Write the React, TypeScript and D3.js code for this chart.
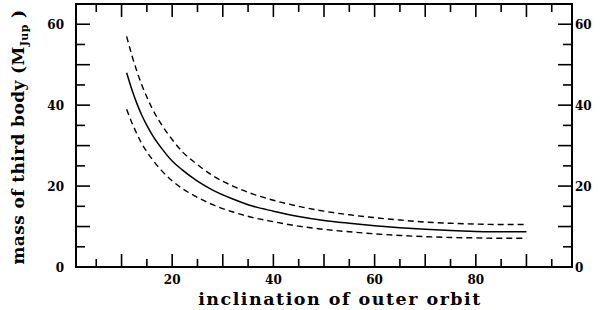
import React from "react";
import * as d3 from "d3";

const inclination = [11, 12, 13, 14, 15, 16, 18, 20, 22, 25, 28, 32, 36, 40, 45, 50, 55, 60, 65, 70, 75, 80, 85, 90];
const massBest = [48, 44, 40.5, 37.5, 35, 32.8, 29.2, 26.2, 24, 21.2, 19, 16.8, 15, 13.8, 12.5, 11.5, 10.8, 10.2, 9.7, 9.3, 9.0, 8.8, 8.7, 8.7];
const massUpper = [57, 52.5, 48.5, 45, 42, 39.3, 35, 31.5, 28.5, 25.3, 22.6, 20, 18, 16.5, 15, 13.8, 12.9, 12.2, 11.6, 11.1, 10.8, 10.6, 10.5, 10.5];
const massLower = [39, 35.8, 33, 30.5, 28.5, 26.7, 23.7, 21.3, 19.4, 17.2, 15.4, 13.6, 12.2, 11.2, 10.1, 9.3, 8.7, 8.2, 7.8, 7.5, 7.3, 7.2, 7.1, 7.1];

const xLabelTicks = [20, 40, 60, 80];
const yLabelTicks = [0, 20, 40, 60];
const xTitle = "inclination of outer orbit";

export default function App() {
  const W = 600, H = 310;
  const left = 76, right = 572, top = 4, bottom = 267;
  const x = d3.scaleLinear().domain([1, 99]).range([left, right]);
  const y = d3.scaleLinear().domain([0, 65]).range([bottom, top]);
  const line = d3.line<number>().x((_, i) => x(inclination[i])).y((d) => y(d)).curve(d3.curveMonotoneX);

  const xMinor = d3.range(5, 99, 5);
  const yMinor = d3.range(5, 65, 5);
  const font = "'DejaVu Serif', serif";

  return (
    <svg width={W} height={H} style={{ position: "absolute", left: 0, top: 0 }}>
      <rect width={W} height={H} fill="#fff" />
      {xMinor.map((v) => {
        const len = v % 10 === 0 ? 13 : 8;
        return (
          <g key={"xt" + v} stroke="#000" strokeWidth={1.6}>
            <line x1={x(v)} x2={x(v)} y1={bottom} y2={bottom - len} />
            <line x1={x(v)} x2={x(v)} y1={top} y2={top + len} />
          </g>
        );
      })}
      {yMinor.map((v) => {
        const len = v % 10 === 0 ? 14 : 9;
        return (
          <g key={"yt" + v} stroke="#000" strokeWidth={1.6}>
            <line x1={left} x2={left + len} y1={y(v)} y2={y(v)} />
            <line x1={right} x2={right - len} y1={y(v)} y2={y(v)} />
          </g>
        );
      })}
      <rect x={left} y={top} width={right - left} height={bottom - top} fill="none" stroke="#000" strokeWidth={2} />
      <path d={line(massUpper) || ""} fill="none" stroke="#000" strokeWidth={1.4} strokeDasharray="6,4" />
      <path d={line(massLower) || ""} fill="none" stroke="#000" strokeWidth={1.4} strokeDasharray="6,4" />
      <path d={line(massBest) || ""} fill="none" stroke="#000" strokeWidth={1.5} />
      {xLabelTicks.map((v) => (
        <text key={"xl" + v} x={x(v)} y={284} textAnchor="middle" fontFamily={font} fontWeight="bold" fontSize={12}>
          {v}
        </text>
      ))}
      {yLabelTicks.map((v) => (
        <g key={"yl" + v}>
          <text x={64} y={y(v) + 4.5} textAnchor="end" fontFamily={font} fontWeight="bold" fontSize={12}>
            {v}
          </text>
          <text x={575} y={y(v) + 4.5} textAnchor="start" fontFamily={font} fontWeight="bold" fontSize={12}>
            {v}
          </text>
        </g>
      ))}
      <text x={340} y={305} textAnchor="middle" fontFamily={font} fontWeight="bold" fontSize={17.5} letterSpacing={1.5}>
        {xTitle}
      </text>
      <text transform="translate(24,137) rotate(-90)" textAnchor="middle" fontFamily={font} fontWeight="bold" fontSize={17} letterSpacing={0.4}>
        mass of third body (M<tspan fontSize={11} dy={4}>Jup</tspan><tspan dy={-4}> )</tspan>
      </text>
    </svg>
  );
}
